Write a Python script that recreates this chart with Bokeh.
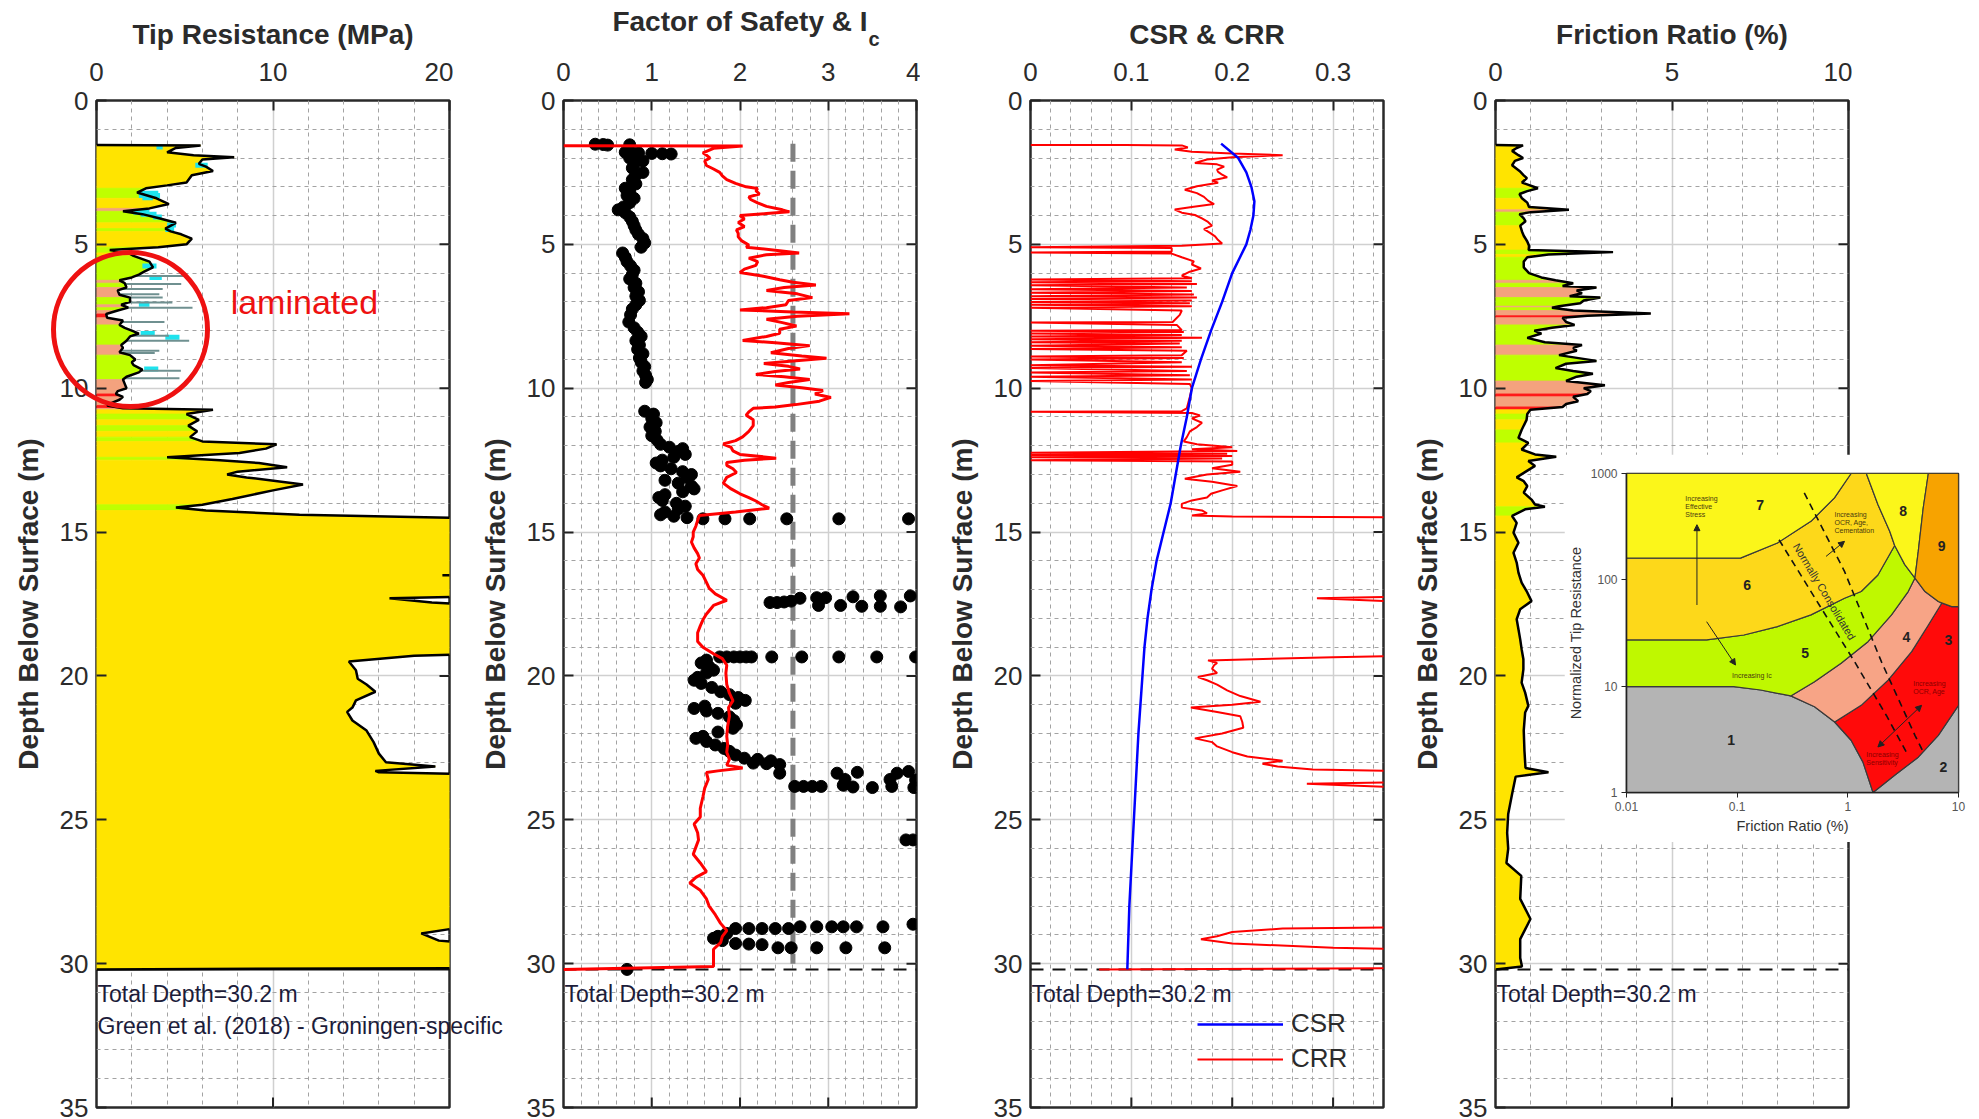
import numpy as np
from bokeh.plotting import figure
from bokeh.models import (Range1d, FixedTicker, Label, Legend, LegendItem,
                          Arrow, NormalHead, Span)
from bokeh.layouts import row, column
from bokeh.core.properties import value
from bokeh.embed import file_html
from bokeh.resources import INLINE

FONT = "Liberation Sans"
TXT = "#2b2b2b"
NOTE = "#1c1c3a"

TOTAL_DEPTH = 30.2
IC_CUTOFF = 2.6
IC_LINE_TOP, IC_LINE_BOTTOM = 1.5, 30.0

# ---------------- Tip resistance (MPa) & soil behaviour type ----------------
depth_qc = [1.55,1.56,1.65,1.80,1.90,1.97,2.05,2.20,2.30,2.45,
            2.60,2.85,2.95,3.05,3.20,3.40,3.60,3.75,3.85,3.95,
            4.10,4.25,4.45,4.55,4.65,4.80,5.00,5.10,5.20,5.30,
            5.40,5.60,5.80,5.95,6.05,6.15,6.25,6.35,6.50,6.60,
            6.75,6.85,7.00,7.10,7.20,7.30,7.42,7.55,7.65,7.80,
            7.90,8.00,8.10,8.20,8.35,8.50,8.60,8.75,8.85,9.00,
            9.10,9.20,9.35,9.45,9.60,9.70,9.85,10.00,10.10,10.20,
            10.30,10.40,10.50,10.60,10.70,10.75,10.90,11.10,11.30,11.50,
            11.70,11.85,11.95,12.10,12.25,12.40,12.50,12.60,12.75,12.90,
            13.00,13.10,13.35,13.55,13.85,14.05,14.15,14.25,14.40,14.55,
            16.40,16.50,16.60,17.20,17.30,17.45,17.60,19.20,19.30,19.50,
            19.80,20.10,20.30,20.55,20.85,21.10,21.25,21.55,21.90,22.30,
            22.70,23.00,23.15,23.30,23.35,23.45,28.75,28.80,28.95,29.20,
            29.40,30.15,30.20]
qc_mpa = [0.0,5.9,4.5,4.0,5.5,7.8,6.0,5.8,6.2,6.6,
          5.4,5.1,4.0,2.8,2.3,3.4,4.1,3.0,1.5,2.6,
          3.6,4.5,3.9,4.2,4.8,5.4,5.1,3.5,0.75,1.8,
          2.1,3.0,3.2,2.7,2.4,2.0,1.3,1.6,1.7,1.2,
          1.3,1.9,1.9,1.4,1.8,1.2,0.55,0.6,1.5,1.3,
          1.6,2.0,2.4,1.9,1.7,1.4,1.5,1.3,1.9,2.2,
          2.0,2.1,2.6,2.4,1.7,1.5,1.6,1.7,1.2,1.1,
          1.5,1.3,0.9,0.6,1.5,6.6,5.1,5.8,5.2,5.7,
          5.3,6.0,10.2,9.6,8.1,4.0,7.0,9.2,10.8,8.0,
          7.4,8.5,11.7,10.0,7.7,6.0,4.5,6.2,11.5,24.0,
          24.0,19.6,24.0,24.0,16.6,19.0,24.0,24.0,18.0,14.3,
          14.7,14.8,15.3,15.8,14.7,14.5,14.2,14.5,15.3,15.7,
          16.0,16.4,19.2,15.8,16.0,24.0,24.0,20.0,18.4,19.4,
          24.0,24.0,0.0]
sbt_qc = [6,6,6,6,6,6,6,6,6,6,
          6,6,6,5,5,6,6,4,5,5,
          5,6,5,6,6,6,6,5,5,6,
          5,5,5,5,5,5,4,5,4,4,
          4,5,5,4,5,4,3,4,4,5,
          5,5,5,5,5,4,4,4,5,5,
          5,5,5,5,5,4,4,4,4,3,
          4,4,4,3,4,6,5,6,5,6,
          5,6,6,6,6,5,6,6,6,6,
          6,6,6,6,6,5,5,6,6,6,
          6,6,6,6,6,6,6,6,6,6,
          6,6,6,6,6,6,6,6,6,6,
          6,6,6,6,6,6,6,6,6,6,
          6,6,6]
# thin-layer spikes and cyan lenses in the laminated zone
spike_depth = [6.10,6.38,6.55,6.73,6.85,7.02,7.20,7.70,8.18,8.35,8.70,8.78,9.39,9.65]
spike_qc = [5.07,4.80,3.75,3.56,3.75,4.30,5.44,3.85,4.10,5.25,3.56,3.30,4.78,4.70]
cyan_depth = [1.62,2.25,3.22,3.30,3.38,3.88,3.95,4.05,4.33,4.48,5.75,6.15,7.08,8.10,8.23,9.33]
cyan_from = [3.4,5.6,2.4,2.4,2.6,2.1,2.5,3.2,4.0,3.9,2.6,3.0,2.4,2.5,3.9,2.7]
cyan_to = [3.75,6.3,3.5,3.6,3.2,3.0,3.4,3.7,4.5,4.4,3.4,3.7,3.0,3.3,4.7,3.5]

# ---------------- Factor of safety (dots) & Ic (line) ----------------
fs_depth = [1.52,1.53,1.55,1.54,1.80,1.82,1.84,1.85,1.86,1.90,
            2.00,2.10,2.20,2.35,2.50,2.60,2.75,2.90,3.05,3.15,
            3.30,3.40,3.55,3.70,3.80,3.90,4.05,4.20,4.35,4.50,
            4.65,4.80,4.95,5.10,5.30,5.45,5.60,5.75,5.90,6.05,
            6.20,6.35,6.50,6.65,6.80,6.95,7.10,7.25,7.45,7.70,
            7.90,8.05,8.20,8.35,8.50,8.65,8.80,8.95,9.10,9.25,
            9.40,9.55,9.70,9.80,10.80,10.90,11.05,11.20,11.35,11.50,
            11.65,11.80,11.95,12.05,12.10,12.20,12.30,12.40,12.50,12.60,
            12.70,12.80,12.90,13.00,13.10,13.20,13.30,13.40,13.50,13.60,
            13.70,13.80,13.90,14.00,14.10,14.20,14.30,14.40,14.45,14.50,
            14.54,14.54,14.54,14.54,14.54,14.54,17.45,17.45,17.43,17.40,
            17.30,17.28,17.28,17.55,17.55,17.25,17.58,17.22,17.58,17.60,
            17.22,19.34,19.34,19.34,19.34,19.34,19.34,19.34,19.34,19.34,
            19.34,19.34,19.45,19.55,19.68,19.80,19.90,20.05,20.15,20.26,
            20.40,20.55,20.65,20.75,20.85,20.95,21.05,21.13,21.22,21.30,
            21.42,21.55,21.70,21.82,21.95,22.10,22.17,22.28,22.40,22.52,
            22.62,22.75,22.86,22.90,22.95,23.03,23.05,23.08,23.38,23.38,
            23.35,23.38,23.32,23.60,23.60,23.62,23.84,23.84,23.84,23.84,
            23.80,23.86,23.88,23.84,23.88,25.70,25.70,28.63,28.72,28.72,
            28.72,28.72,28.72,28.72,28.78,28.78,28.78,28.78,28.78,28.95,
            29.05,29.12,29.20,29.30,29.32,29.34,29.45,29.45,29.45,29.45,
            29.45,30.20]
fs_value = [0.36,0.45,0.50,0.75,0.70,0.85,1.00,1.12,1.22,0.80,
            0.75,0.90,0.80,0.78,0.90,0.82,0.78,0.82,0.70,0.75,
            0.72,0.80,0.75,0.68,0.62,0.70,0.75,0.78,0.80,0.82,
            0.85,0.90,0.92,0.88,0.67,0.70,0.72,0.76,0.80,0.78,
            0.75,0.82,0.80,0.85,0.82,0.86,0.82,0.78,0.76,0.74,
            0.80,0.84,0.88,0.82,0.86,0.84,0.90,0.86,0.88,0.92,
            0.90,0.93,0.95,0.93,0.92,1.02,1.00,1.05,0.98,1.04,
            1.00,1.06,1.10,1.20,1.35,1.30,1.38,1.25,1.12,1.05,
            1.10,1.22,1.35,1.45,1.40,1.15,1.30,1.45,1.48,1.35,
            1.15,1.08,1.12,1.28,1.38,1.30,1.15,1.10,1.25,1.40,
            1.58,1.83,2.11,2.53,3.12,3.91,2.34,2.42,2.50,2.58,
            2.68,2.87,2.97,2.89,3.14,3.28,3.38,3.59,3.59,3.82,
            3.93,1.77,1.85,1.93,2.00,2.07,2.13,2.36,2.70,3.12,
            3.55,3.99,1.62,1.56,1.65,1.70,1.62,1.52,1.48,1.56,
            1.68,1.78,1.88,1.98,2.06,1.95,1.60,1.48,1.62,1.75,
            1.88,1.93,1.96,1.92,1.75,1.58,1.50,1.62,1.72,1.82,
            1.88,1.95,2.05,2.20,2.35,2.15,2.30,2.45,2.45,3.10,
            3.33,3.78,3.91,3.19,3.70,3.99,2.62,2.72,2.82,2.92,
            3.17,3.28,3.50,3.72,3.97,3.88,3.96,3.96,2.68,2.87,
            3.04,3.17,3.32,3.62,1.95,2.10,2.25,2.40,2.55,1.85,
            1.75,1.70,1.80,1.95,2.10,2.25,2.43,2.58,2.87,3.20,
            3.64,0.72]
depth_ic = [1.575,1.58,1.66,1.82,1.90,2.00,2.10,2.26,2.38,2.50,
            2.62,2.75,2.88,3.00,3.06,3.13,3.25,3.35,3.44,3.56,
            3.68,3.80,3.87,3.93,4.00,4.12,4.24,4.38,4.50,4.62,
            4.74,4.88,5.02,5.10,5.22,5.30,5.36,5.48,5.60,5.73,
            5.86,5.98,6.10,6.23,6.32,6.41,6.50,6.60,6.72,6.85,
            6.95,7.10,7.20,7.28,7.35,7.41,7.50,7.60,7.72,7.84,
            7.95,8.09,8.20,8.34,8.42,8.52,8.62,8.77,8.88,8.96,
            9.05,9.14,9.24,9.33,9.42,9.52,9.60,9.70,9.80,9.89,
            9.98,10.08,10.20,10.32,10.45,10.57,10.65,10.70,10.82,10.94,
            11.10,11.30,11.50,11.69,11.82,11.94,12.06,12.18,12.30,12.43,
            12.50,12.58,12.68,12.80,12.93,13.10,13.30,13.50,13.67,13.80,
            13.92,14.05,14.17,14.30,14.42,14.60,14.79,15.00,15.16,15.35,
            15.55,15.75,15.90,16.10,16.30,16.50,16.75,16.95,17.15,17.37,
            17.55,17.85,18.05,18.26,18.50,18.80,19.00,19.23,19.40,19.63,
            19.90,20.30,20.60,20.86,21.10,21.40,21.75,22.10,22.40,22.65,
            22.90,23.10,23.20,23.30,23.36,23.60,23.90,24.20,24.60,24.90,
            25.15,25.45,25.70,25.95,26.20,26.50,26.80,27.00,27.20,27.45,
            27.75,28.00,28.30,28.60,28.85,29.05,29.27,29.50,29.70,29.90,
            30.10,30.20]
ic_value = [0.0,2.03,1.70,1.58,1.62,1.66,1.60,1.62,1.70,1.77,
            1.80,1.85,1.95,2.07,2.20,2.18,2.22,2.10,2.12,2.20,
            2.30,2.48,2.56,2.30,2.00,2.05,1.98,2.05,1.96,1.98,
            1.98,2.02,2.10,2.07,2.45,2.67,2.30,2.10,2.20,2.18,
            2.05,2.00,2.25,2.45,2.60,2.86,2.50,2.30,2.65,2.82,
            2.55,2.52,2.30,2.00,2.60,3.24,2.65,2.30,2.48,2.64,
            2.45,2.45,2.30,2.03,2.40,2.79,2.55,2.35,2.70,2.98,
            2.60,2.27,2.55,2.68,2.40,2.18,2.50,2.79,2.55,2.40,
            2.70,2.94,2.85,3.03,2.90,2.63,2.40,2.15,2.10,2.07,
            2.15,2.15,2.10,2.03,1.95,1.81,1.90,1.92,2.00,2.41,
            2.05,1.85,1.85,1.92,1.96,1.85,1.81,1.90,2.00,2.10,
            2.18,2.25,2.33,1.95,1.54,1.52,1.50,1.47,1.47,1.45,
            1.48,1.52,1.54,1.50,1.52,1.58,1.62,1.65,1.72,1.85,
            1.70,1.62,1.58,1.55,1.52,1.52,1.58,1.70,1.80,1.85,
            1.84,1.85,1.88,1.92,1.87,1.88,1.86,1.85,1.86,1.85,
            1.88,1.85,2.03,1.75,1.62,1.64,1.60,1.58,1.55,1.55,
            1.48,1.52,1.53,1.50,1.47,1.55,1.62,1.50,1.43,1.55,
            1.62,1.65,1.72,1.78,1.85,1.80,1.78,1.70,1.70,1.70,
            1.70,0.0]

# ---------------- CSR & CRR ----------------
depth_csr = [1.5,2.0,2.5,3.0,3.5,4.0,4.5,5.0,5.5,6.0,7.0,8.0,9.0,10.0,11.0,
             12.0,13.0,14.0,15.0,16.0,17.0,18.0,19.0,20.0,22.0,24.0,26.0,28.0,30.2]
csr_value = [0.189,0.206,0.214,0.219,0.222,0.221,0.218,0.214,0.207,0.200,0.190,0.179,0.169,0.160,0.155,
             0.149,0.144,0.139,0.132,0.125,0.120,0.116,0.113,0.111,0.107,0.104,0.101,0.098,0.096]
depth_crr = [1.545,1.55,1.56,1.63,1.70,1.78,1.84,1.90,1.93,1.97,
             2.05,2.17,2.22,2.30,2.40,2.48,2.58,2.67,2.78,2.86,
             2.98,3.10,3.22,3.35,3.48,3.60,3.70,3.79,3.90,3.98,
             4.10,4.22,4.35,4.47,4.60,4.72,4.85,4.97,5.05,5.10,
             5.13,5.25,5.28,5.32,5.45,5.59,5.70,5.84,5.95,6.09,
             6.18,6.22,6.28,6.32,6.38,6.42,6.50,6.56,6.62,6.68,
             6.74,6.80,6.85,6.90,6.95,7.00,7.05,7.10,7.15,7.20,
             7.30,7.45,7.70,7.72,7.80,7.98,8.00,8.05,8.10,8.15,
             8.20,8.25,8.30,8.35,8.40,8.45,8.52,8.58,8.64,8.70,
             8.85,8.90,8.95,9.00,9.10,9.20,9.25,9.30,9.40,9.45,
             9.55,9.60,9.70,9.75,9.85,10.00,10.30,10.70,10.80,10.82,
             10.86,10.95,11.05,11.20,11.35,11.50,11.70,11.85,11.95,12.05,
             12.12,12.18,12.24,12.28,12.32,12.36,12.40,12.44,12.50,12.55,
             12.66,12.78,12.90,13.00,13.15,13.25,13.40,13.55,13.67,13.80,
             13.90,14.02,14.15,14.25,14.35,14.42,14.46,14.50,17.20,17.30,
             17.40,17.50,19.25,19.35,19.46,19.55,19.63,19.75,19.90,20.04,
             20.15,20.30,20.50,20.70,20.90,21.00,21.10,21.25,21.40,21.60,
             21.80,22.00,22.17,22.30,22.45,22.65,22.80,22.95,23.05,23.15,
             23.25,23.35,23.65,23.75,23.85,23.95,28.70,28.78,28.90,29.05,
             29.15,29.30,29.45,29.55,30.15,30.20]
crr_value = [0.0,0.094,0.150,0.156,0.143,0.160,0.200,0.250,0.230,0.200,
             0.175,0.163,0.185,0.192,0.185,0.186,0.190,0.195,0.180,0.186,
             0.165,0.153,0.165,0.172,0.176,0.182,0.160,0.143,0.150,0.163,
             0.170,0.176,0.180,0.172,0.178,0.183,0.186,0.190,0.150,0.0,
             0.140,0.140,0.0,0.140,0.150,0.162,0.160,0.169,0.158,0.150,
             0.160,0.0,0.160,0.0,0.165,0.0,0.155,0.0,0.160,0.0,
             0.162,0.0,0.165,0.0,0.160,0.0,0.158,0.0,0.160,0.0,
             0.150,0.148,0.141,0.0,0.145,0.150,0.0,0.152,0.0,0.150,
             0.0,0.170,0.0,0.150,0.0,0.148,0.0,0.150,0.0,0.155,
             0.150,0.0,0.152,0.0,0.150,0.0,0.160,0.0,0.155,0.0,
             0.158,0.0,0.160,0.0,0.158,0.160,0.158,0.155,0.150,0.0,
             0.160,0.168,0.160,0.170,0.165,0.158,0.155,0.152,0.165,0.200,
             0.160,0.205,0.0,0.195,0.0,0.200,0.0,0.190,0.0,0.200,
             0.200,0.180,0.208,0.175,0.153,0.180,0.205,0.190,0.179,0.175,
             0.160,0.150,0.150,0.170,0.175,0.160,0.200,0.450,0.450,0.284,
             0.350,0.450,0.450,0.300,0.176,0.185,0.182,0.180,0.185,0.166,
             0.175,0.185,0.195,0.208,0.228,0.200,0.159,0.185,0.208,0.210,
             0.211,0.190,0.163,0.180,0.185,0.200,0.215,0.250,0.230,0.245,
             0.280,0.450,0.450,0.274,0.350,0.450,0.450,0.250,0.200,0.185,
             0.169,0.200,0.300,0.450,0.450,0.068]

# ---------------- Friction ratio (%) ----------------
depth_fr = [1.55,1.56,1.65,1.75,1.90,2.00,2.10,2.25,2.45,2.60,
            2.70,2.85,3.05,3.15,3.25,3.40,3.55,3.70,3.80,3.88,
            3.95,4.10,4.20,4.35,4.55,4.70,4.90,5.05,5.20,5.27,
            5.35,5.45,5.60,5.80,6.00,6.15,6.25,6.35,6.45,6.50,
            6.60,6.70,6.80,6.85,6.95,7.05,7.15,7.20,7.30,7.40,
            7.48,7.55,7.70,7.80,7.90,8.00,8.10,8.25,8.40,8.50,
            8.60,8.70,8.85,9.05,9.15,9.30,9.40,9.50,9.60,9.75,
            9.90,10.00,10.10,10.20,10.30,10.45,10.55,10.65,10.75,10.90,
            11.10,11.45,11.73,11.90,12.13,12.30,12.38,12.53,12.70,12.88,
            13.10,13.23,13.40,13.63,13.87,14.04,14.12,14.21,14.44,14.68,
            15.02,15.37,15.72,16.06,16.41,16.76,17.05,17.40,17.68,18.03,
            18.38,18.73,19.07,19.42,19.77,20.23,20.58,21.04,21.27,21.90,
            22.60,23.20,23.35,23.50,24.10,24.80,25.45,26.00,26.50,26.95,
            27.75,28.45,29.15,29.80,30.10,30.20]
fr_pct = [0.0,0.78,0.60,0.47,0.65,0.78,0.55,0.47,0.68,0.80,
          0.89,0.75,1.20,0.90,0.68,0.75,0.90,0.95,2.08,1.00,
          0.68,0.80,0.85,0.70,0.75,0.80,0.90,0.95,0.94,3.33,
          1.50,0.90,0.80,0.80,0.95,1.30,1.70,2.20,1.90,2.86,
          2.30,2.45,2.10,2.97,2.50,2.40,1.80,1.60,2.20,4.40,
          2.60,1.90,2.00,2.24,1.60,1.10,1.30,0.90,1.40,2.45,
          2.20,2.30,1.80,2.86,2.00,1.70,2.20,2.76,2.30,2.00,
          3.10,2.50,2.70,2.60,2.20,2.34,2.00,1.90,0.99,0.90,
          0.88,0.74,0.65,0.93,0.74,1.12,1.72,0.93,1.12,0.88,
          0.60,0.80,0.90,0.80,1.02,1.12,1.40,0.84,0.47,0.60,
          0.51,0.65,0.51,0.60,0.65,0.74,0.88,1.02,0.70,0.60,
          0.65,0.70,0.74,0.79,0.79,0.74,0.84,0.93,0.84,0.80,
          0.82,0.85,1.50,0.57,0.47,0.36,0.33,0.36,0.31,0.73,
          0.70,0.99,0.70,0.70,0.75,0.0]

# ---------------- Robertson SBT chart (inset) zones: (Rf %, Qtn) ----------------
ZONES = [
    ("1", "#B4B4B4", [0.01,0.01,0.093,0.163,0.305,0.50,0.76,1.07,1.37,1.69],
                     [1,9.9,9.9,9.2,8.1,6.4,4.6,3.1,1.93,1.0]),
    ("2", "#B4B4B4", [1.69,10,10,6.57,4.33,2.65], [1.0,1.0,6.6,3.45,2.15,1.45]),
    ("3", "#FF0A0A", [0.76,1.07,1.37,1.69,2.65,4.33,6.57,10,10,8.69,7.05,5.34,3.77,2.31,1.32],
                     [4.6,3.1,1.93,1.0,1.45,2.15,3.45,6.6,56,56,60.3,37.6,21.1,11.4,6.6]),
    ("4", "#F7A486", [0.305,0.50,0.76,1.32,2.31,3.77,5.34,7.05,6.57,4.98,4.04,3.51,2.48,1.52,0.869,0.50],
                     [8.1,6.4,4.6,6.6,11.4,21.1,37.6,60.3,62.5,77.6,104,77.6,46.8,26.2,16.4,11.0]),
    ("5", "#BFF800", [0.01,0.093,0.163,0.305,0.50,0.869,1.52,2.48,3.51,4.04,3.27,2.65,1.87,1.32,0.933,0.464,0.231,0.115,0.053,0.01],
                     [9.9,9.9,9.2,8.1,11.0,16.4,26.2,46.8,77.6,104,139,210,111,77.6,67.1,46.8,36.3,30.3,27.2,27.2]),
    ("6", "#FDD81A", [0.01,0.053,0.115,0.231,0.464,0.933,1.32,1.87,2.65,2.39,1.87,1.47,1.07,0.757,0.464,0.231,0.107,0.01],
                     [27.2,27.2,30.3,36.3,46.8,67.1,77.6,111,210,286,511,1000,1000,590,355,222,160,160]),
    ("7", "#FBF61A", [0.01,0.107,0.231,0.464,0.757,1.07,0.01], [160,160,222,355,590,1000,1000]),
    ("8", "#FBF61A", [1.47,5.34,4.8,4.33,4.04,3.27,2.65,2.39,1.87], [1000,1000,474,185,104,139,210,286,511]),
    ("9", "#F7A300", [5.34,10,10,8.69,6.57,4.98,4.04,4.33,4.8], [1000,1000,56,56,62.5,77.6,104,185,474]),
]
zone_label_rf = [0.088, 7.3, 8.1, 3.39, 0.412, 0.123, 0.161, 3.16, 7.05]
zone_label_q = [3.1, 1.73, 27.2, 29.2, 20.3, 90, 510, 442, 206]
nc_left_rf = [0.239,0.552,1.15,2.23,3.51]
nc_left_q = [238,58,17,5.3,2.23]
nc_right_rf = [0.404,0.933,2.01,4.04,4.8]
nc_right_q = [657,120,17,3.45,2.4]

SBT_COLORS = {6: "#FFE400", 5: "#BFFF00", 4: "#F4A27E", 3: "#FF1A1A"}

# ---------------- layout geometry (page pixels) ----------------
FW, FH = 353, 1007
TOP = 100
BOTTOM = 12
TICK_PX = 10
DEPTH_MAJOR = list(range(0, 36, 5))
DEPTH_MINOR = [d for d in range(0, 36) if d % 5 != 0]


def style_axis(ax):
    ax.axis_line_color = None
    ax.major_tick_in = TICK_PX
    ax.major_tick_out = 0
    ax.major_tick_line_color = "#222222"
    ax.major_tick_line_width = 2
    ax.minor_tick_line_color = None
    ax.major_label_text_font = FONT
    ax.major_label_text_font_size = "26px"
    ax.major_label_text_color = TXT
    ax.axis_label_text_font = FONT
    ax.axis_label_text_font_size = "28px"
    ax.axis_label_text_font_style = "bold"
    ax.axis_label_text_color = TXT


def make_panel(xmax, xticks, xlabels, xminor, title, border_left, title_standoff=10):
    p = figure(frame_width=FW, frame_height=FH, x_range=Range1d(0, xmax), y_range=Range1d(35, 0),
               x_axis_location="above", output_backend="svg", toolbar_location=None,
               min_border_left=border_left, min_border_right=4, min_border_top=TOP,
               min_border_bottom=BOTTOM)
    p.background_fill_color = "white"
    p.border_fill_color = "white"
    p.outline_line_color = "#2a2a2a"
    p.outline_line_width = 2.5
    xa = p.xaxis[0]
    xa.ticker = FixedTicker(ticks=xticks, minor_ticks=xminor)
    xa.major_label_overrides = {t: l for t, l in zip(xticks, xlabels)}
    xa.axis_label = title
    style_axis(xa)
    xa.major_label_standoff = 16
    xa.axis_label_standoff = title_standoff
    ya = p.yaxis[0]
    ya.ticker = FixedTicker(ticks=DEPTH_MAJOR, minor_ticks=DEPTH_MINOR)
    ya.axis_label = "Depth Below Surface (m)"
    style_axis(ya)
    ya.major_label_standoff = 4
    ya.axis_label_standoff = 13
    for g in (p.xgrid[0], p.ygrid[0]):
        g.grid_line_color = "#d0d0d0"
        g.grid_line_width = 1.5
        g.minor_grid_line_color = "#a3a3a3"
        g.minor_grid_line_dash = "4 4"
        g.minor_grid_line_width = 1
    # inward tick marks on the right and bottom edges of the box
    dx = xmax * TICK_PX / FW
    dy = 35 * TICK_PX / FH
    ry = [d for d in DEPTH_MAJOR if 0 < d < 35]
    p.segment(x0=[xmax] * len(ry), y0=ry, x1=[xmax - dx] * len(ry), y1=ry,
              line_color="#222222", line_width=2)
    bx = [x for x in xticks if 0 < x < xmax]
    p.segment(x0=bx, y0=[35] * len(bx), x1=bx, y1=[35 - dy] * len(bx),
              line_color="#222222", line_width=2)
    return p


def sbt_runs(depth, vals, cls):
    xs, ys, cols = [], [], []
    n = min(len(depth), len(vals), len(cls))
    i = 0
    while i < n - 1:
        j = i
        while j + 1 < n - 1 and cls[j + 1] == cls[i]:
            j += 1
        d = list(depth[i:j + 2])
        v = list(vals[i:j + 2])
        xs.append([0.0] + v + [0.0])
        ys.append([d[0]] + d + [d[-1]])
        cols.append(SBT_COLORS[cls[i]])
        i = j + 1
    return xs, ys, cols


def note(p, x, y, text, size="23px"):
    p.add_layout(Label(x=x, y=y, text=text, x_offset=1, text_font=FONT, text_font_size=size,
                       text_color=NOTE, text_baseline="middle", text_align="left"))


def total_line(p, dashed=True):
    s = Span(location=TOTAL_DEPTH, dimension="width", line_color="#111111",
             line_width=2, line_dash="13 9" if dashed else "solid")
    s.level = "underlay"
    p.add_layout(s)


# ---------------- Panel 1 ----------------
p1 = make_panel(20, [0, 10, 20], ["0", "10", "20"], [2, 4, 6, 8, 12, 14, 16, 18],
                "Tip Resistance (MPa)", 96)
xs, ys, cols = sbt_runs(depth_qc, qc_mpa, sbt_qc)
p1.patches(xs, ys, fill_color=cols, line_color=cols, line_width=0.8)
p1.segment(x0=cyan_from, y0=cyan_depth, x1=cyan_to, y1=cyan_depth, line_color="#1EE3EE", line_width=5)
spike_from = np.interp(spike_depth, depth_qc, qc_mpa)
p1.segment(x0=list(spike_from), y0=spike_depth, x1=spike_qc, y1=spike_depth,
           line_color="#6f9090", line_width=2)
p1.line(qc_mpa, depth_qc, line_color="black", line_width=2.5)
total_line(p1, dashed=False)
note(p1, 0, 31.07, "Total Depth=30.2 m")
p1.add_layout(Label(x=7.6, y=7.02, text="laminated", text_font=FONT, text_font_size="34px",
                    text_color="#EE1111", text_baseline="middle", text_align="left"))

# ---------------- Panel 2 ----------------
p2 = make_panel(4, [0, 1, 2, 3, 4], ["0", "1", "2", "3", "4"],
                [0.2, 0.4, 0.6, 0.8, 1.2, 1.4, 1.6, 1.8, 2.2, 2.4, 2.6, 2.8, 3.2, 3.4, 3.6, 3.8],
                "Factor of Safety & I", 110, title_standoff=23)
total_line(p2)
p2.segment(x0=[IC_CUTOFF], y0=[IC_LINE_TOP], x1=[IC_CUTOFF], y1=[IC_LINE_BOTTOM],
           line_color="#808080", line_width=5, line_dash="18 9")
n = min(len(fs_depth), len(fs_value))
p2.scatter(fs_value[:n], fs_depth[:n], size=12, fill_color="black", line_color="black")
n = min(len(depth_ic), len(ic_value))
p2.line(ic_value[:n], depth_ic[:n], line_color="#FF0000", line_width=3)
note(p2, 0, 31.07, "Total Depth=30.2 m")

# ---------------- Panel 3 ----------------
p3 = make_panel(0.35, [0, 0.1, 0.2, 0.3], ["0", "0.1", "0.2", "0.3"],
                [0.02, 0.04, 0.06, 0.08, 0.12, 0.14, 0.16, 0.18, 0.22, 0.24, 0.26, 0.28, 0.32, 0.34],
                "CSR & CRR", 110)
total_line(p3)
n = min(len(depth_crr), len(crr_value))
r_crr = p3.line(crr_value[:n], depth_crr[:n], line_color="#FF0000", line_width=2)
r_csr = p3.line(csr_value, depth_csr, line_color="#0000FF", line_width=2.5)
note(p3, 0, 31.07, "Total Depth=30.2 m")
leg = Legend(items=[LegendItem(label=value("CSR"), renderers=[r_csr]),
                    LegendItem(label=value("CRR"), renderers=[r_crr])],
             location=(167, 33), background_fill_alpha=0, border_line_alpha=0,
             label_text_font=FONT, label_text_font_size="26px", label_text_color=TXT,
             glyph_width=86, glyph_height=30, label_standoff=8, spacing=4, padding=0, margin=0)
p3.add_layout(leg)

# ---------------- Panel 4 ----------------
p4 = make_panel(10, [0, 5, 10], ["0", "5", "10"], [1, 2, 3, 4, 6, 7, 8, 9],
                "Friction Ratio (%)", 108)
idx = np.clip(np.searchsorted(depth_qc, depth_fr, side="right") - 1, 0, len(sbt_qc) - 1)
cls_fr = [sbt_qc[k] for k in idx]
xs, ys, cols = sbt_runs(depth_fr, fr_pct, cls_fr)
p4.patches(xs, ys, fill_color=cols, line_color=cols, line_width=0.8)
p4.line(fr_pct, depth_fr, line_color="black", line_width=2.5)
total_line(p4)
note(p4, 0, 31.07, "Total Depth=30.2 m")

# ---------------- Inset: SBT chart ----------------
INS_LEFT, INS_TOP = 1564, 454
INS_BL, INS_BR, INS_BT, INS_BB, INS_FW, INS_FH = 59, 11, 19, 50, 332, 319
ins = figure(x_axis_type="log", y_axis_type="log", x_range=Range1d(0.01, 10), y_range=Range1d(1, 1000),
             frame_width=INS_FW, frame_height=INS_FH, min_border_left=INS_BL, min_border_right=INS_BR,
             min_border_top=INS_BT, min_border_bottom=INS_BB, output_backend="svg", toolbar_location=None)
ins.background_fill_color = "white"
ins.border_fill_color = "white"
ins.grid.visible = False
ins.outline_line_color = "#222222"
ins.outline_line_width = 1.5
for name, col, zr, zq in ZONES:
    ins.patch(zr, zq, fill_color=col, line_color="#3a3a3a", line_width=1.2)
ins.line(nc_left_rf, nc_left_q, line_color="#111111", line_width=1.6, line_dash="7 5")
ins.line(nc_right_rf, nc_right_q, line_color="#111111", line_width=1.6, line_dash="7 5")
for (name, _, _, _), zx, zy in zip(ZONES, zone_label_rf, zone_label_q):
    ins.add_layout(Label(x=zx, y=zy, text=name, text_font=FONT, text_font_size="14px",
                         text_font_style="bold", text_color="#222222",
                         text_align="center", text_baseline="middle"))
ins.add_layout(Label(x=0.614, y=77.6, text="Normally Consolidated", angle=-1.03,
                     text_font=FONT, text_font_size="11px", text_color="#333333",
                     text_align="center", text_baseline="middle"))


def small(p, x, y, lines, color="#4a3a10"):
    for k, s in enumerate(lines):
        p.add_layout(Label(x=x, y=y, y_offset=-8 * k, text=s, text_font=FONT, text_font_size="7px",
                           text_color=color, text_align="left", text_baseline="top"))


small(ins, 0.034, 631, ["Increasing", "Effective", "Stress"])
small(ins, 0.090, 13.5, ["Increasing Ic"])
small(ins, 0.757, 442, ["Increasing", "OCR, Age,", "Cementation"])
small(ins, 3.9, 11.5, ["Increasing", "OCR, Age"], color="#8a0000")
small(ins, 1.47, 2.45, ["Increasing", "Sensitivity"], color="#8a0000")
ah = dict(size=6, fill_color="#222222", line_color="#222222")
ins.add_layout(Arrow(end=NormalHead(**ah), x_start=0.0433, y_start=58, x_end=0.0433, y_end=330,
                     line_color="#222222", line_width=1))
ins.add_layout(Arrow(end=NormalHead(**ah), x_start=0.053, y_start=40.4, x_end=0.0966, y_end=15.8,
                     line_color="#222222", line_width=1))
ins.add_layout(Arrow(end=NormalHead(**ah), x_start=0.635, y_start=166, x_end=0.933, y_end=230,
                     line_color="#222222", line_width=1))
ins.add_layout(Arrow(start=NormalHead(**ah), end=NormalHead(**ah), x_start=1.87, y_start=2.68,
                     x_end=4.64, y_end=6.6, line_color="#222222", line_width=1))

ixa = ins.xaxis[0]
ixa.ticker = FixedTicker(ticks=[0.01, 0.1, 1, 10])
ixa.major_label_overrides = {0.01: "0.01", 0.1: "0.1", 1: "1", 10: "10"}
ixa.axis_label = "Friction Ratio (%)"
iya = ins.yaxis[0]
iya.ticker = FixedTicker(ticks=[1, 10, 100, 1000])
iya.major_label_overrides = {1: "1", 10: "10", 100: "100", 1000: "1000"}
iya.axis_label = "Normalized Tip Resistance"
for ax in (ixa, iya):
    ax.axis_line_color = "#222222"
    ax.axis_line_width = 1.5
    ax.major_tick_in = 0
    ax.major_tick_out = 5
    ax.major_tick_line_color = "#222222"
    ax.minor_tick_line_color = None
    ax.major_label_text_font = FONT
    ax.major_label_text_font_size = "12px"
    ax.major_label_text_color = "#555555"
    ax.major_label_standoff = 4
    ax.axis_label_text_font = FONT
    ax.axis_label_text_font_size = "14.5px"
    ax.axis_label_text_font_style = "normal"
    ax.axis_label_text_color = "#333333"
    ax.axis_label_standoff = 4

# ---------------- Overlay for notes that run past the plot boxes ----------------
ROW_H = TOP + FH + BOTTOM
INS_H = INS_BT + INS_FH + INS_BB
OV_PULL = 62           # the overlay would otherwise sit this far right of the page origin
OV_W, OV_H = 1100, ROW_H
ov = figure(frame_width=OV_W, frame_height=OV_H,
            x_range=Range1d(0, OV_W), y_range=Range1d(OV_H, 0),
            x_axis_type=None, y_axis_type=None, min_border_left=0, min_border_right=0,
            min_border_top=0, min_border_bottom=0, output_backend="svg",
            toolbar_location=None)
ov.background_fill_alpha = 0
ov.border_fill_alpha = 0
ov.outline_line_color = None
# circle marking the laminated zone (page pixel position)
ov.ellipse(x=[130], y=[329], width=[154], height=[154], fill_color=None,
           line_color="#EE1111", line_width=5)
ov.add_layout(Label(x=97, y=1025, text="Green et al. (2018) - Groningen-specific", text_font=FONT,
                    text_font_size="23px", text_color=NOTE, text_baseline="middle", text_align="left"))
ov.add_layout(Label(x=868, y=38, text="c", text_font=FONT, text_font_size="20px",
                    text_font_style="bold", text_color=TXT, text_baseline="middle", text_align="left"))

ins.margin = (INS_TOP - ROW_H, 0, 0, INS_LEFT)
ov.margin = (-(INS_TOP + INS_H), 0, 0, -OV_PULL)

layout = column(row(p1, p2, p3, p4), ins, ov)
open("out.html", "w").write(file_html(layout, INLINE))
